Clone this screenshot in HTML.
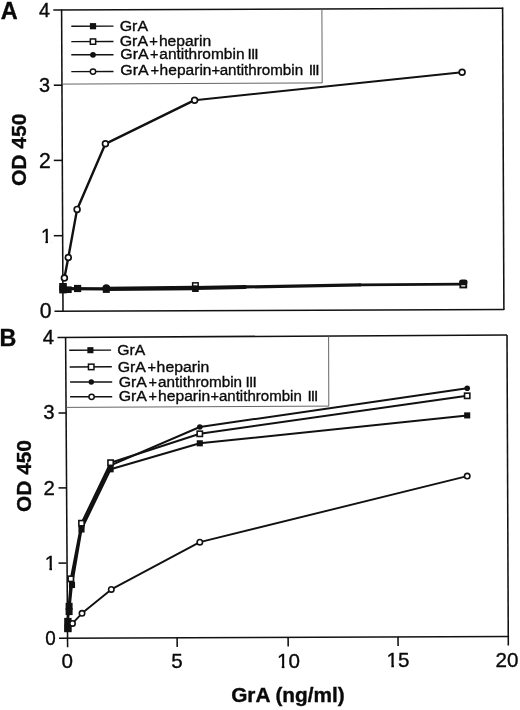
<!DOCTYPE html>
<html lang="en"><head><meta charset="utf-8"><title>GrA OD 450</title>
<style>
html,body{margin:0;padding:0;background:#fff;}
body{width:520px;height:710px;overflow:hidden;}
svg{display:block;}
svg text{font-family:"Liberation Sans",sans-serif;fill:#0a0a0a;stroke:#0a0a0a;stroke-width:0.35px;}
</style></head><body>
<svg width="520" height="710" viewBox="0 0 520 710">
<rect width="520" height="710" fill="#fff"/>
<!-- panel A -->
<line x1="53.3" y1="10" x2="503.2" y2="8.2" stroke="#111" stroke-width="1.55" />
<line x1="61.6" y1="9.5" x2="63" y2="311.5" stroke="#111" stroke-width="1.55" />
<line x1="54.5" y1="311.3" x2="504" y2="309.4" stroke="#111" stroke-width="1.55" />
<line x1="502.6" y1="7.6" x2="503.9" y2="310" stroke="#111" stroke-width="1.55" />
<line x1="53.8" y1="85.2" x2="62.3" y2="85.2" stroke="#111" stroke-width="1.55" />
<line x1="53.8" y1="160.4" x2="62.3" y2="160.4" stroke="#111" stroke-width="1.55" />
<line x1="53.8" y1="235.7" x2="62.3" y2="235.7" stroke="#111" stroke-width="1.55" />
<line x1="321.9" y1="9" x2="322.2" y2="83" stroke="#555" stroke-width="0.9" />
<line x1="62" y1="84.1" x2="322.2" y2="82.9" stroke="#555" stroke-width="0.9" />
<line x1="71.3" y1="26.2" x2="113.5" y2="26.099999999999998" stroke="#111" stroke-width="1.45" />
<line x1="71.3" y1="41.6" x2="113.5" y2="41.5" stroke="#111" stroke-width="1.45" />
<line x1="71.3" y1="54.8" x2="113.5" y2="54.699999999999996" stroke="#111" stroke-width="1.45" />
<line x1="71.3" y1="71.6" x2="113.5" y2="71.5" stroke="#111" stroke-width="1.45" />
<rect x="89.90" y="23.10" width="6.2" height="6.2" fill="#111"/>
<rect x="90.35" y="38.95" width="5.30" height="5.30" fill="#fff" stroke="#111" stroke-width="1.5"/>
<circle cx="93.0" cy="54.8" r="2.90" fill="#111"/>
<circle cx="93.0" cy="71.6" r="2.70" fill="#fff" stroke="#111" stroke-width="1.5"/>
<text y="31.2" font-size="15.5"><tspan x="119.70" textLength="28.33" lengthAdjust="spacingAndGlyphs">GrA</tspan></text>
<text y="46.1" font-size="15.5"><tspan x="119.70" textLength="28.33" lengthAdjust="spacingAndGlyphs">GrA</tspan><tspan x="149.37" textLength="8.65" lengthAdjust="spacingAndGlyphs">+</tspan><tspan x="158.92" textLength="52.20" lengthAdjust="spacingAndGlyphs">heparin</tspan></text>
<text y="59.2" font-size="15.5"><tspan x="120.30" textLength="28.33" lengthAdjust="spacingAndGlyphs">GrA</tspan><tspan x="149.98" textLength="8.53" lengthAdjust="spacingAndGlyphs">+</tspan><tspan x="159.34" textLength="85.17" lengthAdjust="spacingAndGlyphs">antithrombin</tspan><tspan x="244.19" letter-spacing="-0.93"> III</tspan></text>
<text y="75.2" font-size="15.5"><tspan x="120.30" textLength="28.33" lengthAdjust="spacingAndGlyphs">GrA</tspan><tspan x="150.47" textLength="8.65" lengthAdjust="spacingAndGlyphs">+</tspan><tspan x="159.63" textLength="51.89" lengthAdjust="spacingAndGlyphs">heparin</tspan><tspan x="211.47" textLength="8.65" lengthAdjust="spacingAndGlyphs">+</tspan><tspan x="219.65" textLength="83.43" lengthAdjust="spacingAndGlyphs">antithrombin</tspan><tspan x="305.64" letter-spacing="-1.08"> III</tspan></text>
<text x="49.9" y="16.7" font-size="19.7" text-anchor="end" font-weight="normal" >4</text>
<text x="50.1" y="92.3" font-size="19.9" text-anchor="end" font-weight="normal" >3</text>
<text x="50.9" y="167.8" font-size="21.2" text-anchor="end" font-weight="normal" >2</text>
<text x="51.6" y="318.3" font-size="21.2" text-anchor="end" font-weight="normal" >0</text>
<clipPath id="c1_1" clipPathUnits="userSpaceOnUse"><rect x="38.90" y="222.80" width="12.75" height="17.33"/><rect x="45.45" y="222.80" width="2.54" height="20.70"/><rect x="51.65" y="222.80" width="59.10" height="23.70"/></clipPath><text x="40.9" y="242.5" font-size="19.7" text-anchor="start" font-weight="normal" clip-path="url(#c1_1)">1</text>
<text x="0.8" y="18.7" font-size="23.5" text-anchor="start" font-weight="bold" >A</text>
<g transform="translate(25.9,149.8) rotate(-90)"><text x="0" y="0" font-size="19.8" text-anchor="middle" font-weight="bold" textLength="72.5" lengthAdjust="spacingAndGlyphs" >OD 450</text></g>
<polyline points="63,288.7 106.3,288.85" fill="none" stroke="#111" stroke-width="3.3" stroke-linejoin="round" stroke-linecap="round"/>
<polyline points="106.3,288.9 195.4,288.0" fill="none" stroke="#111" stroke-width="4.3" stroke-linejoin="round" stroke-linecap="round"/>
<polyline points="195.4,287.9 245,287.0" fill="none" stroke="#111" stroke-width="4.0" stroke-linejoin="round" stroke-linecap="round"/>
<polyline points="245,286.95 360,284.95" fill="none" stroke="#111" stroke-width="3.2" stroke-linejoin="round" stroke-linecap="round"/>
<polyline points="360,284.95 463,284.15" fill="none" stroke="#111" stroke-width="2.7" stroke-linejoin="round" stroke-linecap="round"/>
<rect x="59.20" y="283.00" width="7.6" height="7.6" fill="#111"/>
<rect x="59.20" y="285.80" width="7.6" height="7.6" fill="#111"/>
<rect x="65.10" y="286.40" width="6.6" height="6.6" fill="#111"/>
<rect x="74.00" y="284.90" width="7.2" height="7.2" fill="#111"/>
<rect x="102.80" y="285.90" width="7.0" height="7.0" fill="#111"/>
<circle cx="106.3" cy="287.9" r="3.70" fill="#111"/>
<rect x="192.10" y="285.40" width="6.6" height="6.6" fill="#111"/>
<rect x="192.65" y="282.85" width="5.50" height="5.50" fill="none" stroke="#111" stroke-width="1.5"/>
<rect x="460.35" y="281.55" width="5.90" height="5.90" fill="#fff" stroke="#111" stroke-width="1.9"/>
<rect x="459.4" y="279.4" width="8.0" height="5.9" rx="2.2" fill="#111"/>
<polyline points="64.4,278 68.3,257.5 77.1,209.4 105.4,143.8 194.6,100.2" fill="none" stroke="#111" stroke-width="2.4" stroke-linejoin="round" stroke-linecap="round"/>
<polyline points="194.6,100.2 462.1,72.3" fill="none" stroke="#111" stroke-width="1.9" stroke-linejoin="round" stroke-linecap="round"/>
<circle cx="64.4" cy="278" r="2.90" fill="#fff" stroke="#111" stroke-width="1.7"/>
<circle cx="68.3" cy="257.5" r="2.90" fill="#fff" stroke="#111" stroke-width="1.7"/>
<circle cx="77.1" cy="209.4" r="2.90" fill="#fff" stroke="#111" stroke-width="1.7"/>
<circle cx="105.4" cy="143.8" r="2.90" fill="#fff" stroke="#111" stroke-width="1.7"/>
<circle cx="194.6" cy="100.2" r="2.90" fill="#fff" stroke="#111" stroke-width="1.7"/>
<circle cx="462.1" cy="72.3" r="2.90" fill="#fff" stroke="#111" stroke-width="1.7"/>
<!-- panel B -->
<line x1="57.5" y1="337.5" x2="507" y2="335" stroke="#111" stroke-width="1.55" />
<line x1="65.6" y1="337" x2="67.6" y2="647.2" stroke="#111" stroke-width="1.55" />
<line x1="59" y1="638.3" x2="508.8" y2="636.4" stroke="#111" stroke-width="1.55" />
<line x1="507" y1="335" x2="508.3" y2="645.6" stroke="#111" stroke-width="1.55" />
<line x1="58.5" y1="413" x2="66.4" y2="413" stroke="#111" stroke-width="1.55" />
<line x1="58.5" y1="487.9" x2="66.4" y2="487.9" stroke="#111" stroke-width="1.55" />
<line x1="58.5" y1="563.1" x2="66.4" y2="563.1" stroke="#111" stroke-width="1.55" />
<line x1="177.1" y1="637.8" x2="177.2" y2="647.0" stroke="#111" stroke-width="1.55" />
<line x1="288.1" y1="637.3" x2="288.20000000000005" y2="646.5" stroke="#111" stroke-width="1.55" />
<line x1="398.0" y1="636.8" x2="398.1" y2="646.0" stroke="#111" stroke-width="1.55" />
<line x1="328.6" y1="336" x2="328.8" y2="406.2" stroke="#555" stroke-width="0.9" />
<line x1="66" y1="407.4" x2="328.8" y2="406.1" stroke="#555" stroke-width="0.9" />
<line x1="69.2" y1="350.2" x2="111.1" y2="350.09999999999997" stroke="#111" stroke-width="1.45" />
<line x1="69.7" y1="366.9" x2="111.8" y2="366.79999999999995" stroke="#111" stroke-width="1.45" />
<line x1="70.1" y1="382.0" x2="112.2" y2="381.9" stroke="#111" stroke-width="1.45" />
<line x1="70.1" y1="396.8" x2="112.2" y2="396.7" stroke="#111" stroke-width="1.45" />
<rect x="87.35" y="347.15" width="6.1" height="6.1" fill="#111"/>
<rect x="88.45" y="364.15" width="5.50" height="5.50" fill="#fff" stroke="#111" stroke-width="1.5"/>
<circle cx="91.3" cy="382.0" r="2.70" fill="#111"/>
<circle cx="91.6" cy="396.8" r="2.65" fill="#fff" stroke="#111" stroke-width="1.5"/>
<text y="355.1" font-size="15.5"><tspan x="117.31" textLength="28.02" lengthAdjust="spacingAndGlyphs">GrA</tspan></text>
<text y="371.7" font-size="15.5"><tspan x="117.70" textLength="28.23" lengthAdjust="spacingAndGlyphs">GrA</tspan><tspan x="147.48" textLength="8.53" lengthAdjust="spacingAndGlyphs">+</tspan><tspan x="156.61" textLength="52.62" lengthAdjust="spacingAndGlyphs">heparin</tspan></text>
<text y="386.6" font-size="15.5"><tspan x="118.70" textLength="28.23" lengthAdjust="spacingAndGlyphs">GrA</tspan><tspan x="148.48" textLength="8.53" lengthAdjust="spacingAndGlyphs">+</tspan><tspan x="158.05" textLength="84.05" lengthAdjust="spacingAndGlyphs">antithrombin</tspan><tspan x="242.14" letter-spacing="-0.88"> III</tspan></text>
<text y="401.3" font-size="15.5"><tspan x="118.70" textLength="28.23" lengthAdjust="spacingAndGlyphs">GrA</tspan><tspan x="148.48" textLength="8.53" lengthAdjust="spacingAndGlyphs">+</tspan><tspan x="158.12" textLength="52.10" lengthAdjust="spacingAndGlyphs">heparin</tspan><tspan x="210.48" textLength="8.53" lengthAdjust="spacingAndGlyphs">+</tspan><tspan x="218.96" textLength="82.82" lengthAdjust="spacingAndGlyphs">antithrombin</tspan><tspan x="304.29" letter-spacing="-1.03"> III</tspan></text>
<text x="54.0" y="344.2" font-size="20.4" text-anchor="end" font-weight="normal" >4</text>
<text x="54.7" y="419.1" font-size="20.4" text-anchor="end" font-weight="normal" >3</text>
<text x="54.9" y="494.8" font-size="20.4" text-anchor="end" font-weight="normal" >2</text>
<text x="55.7" y="644.8" font-size="20.4" text-anchor="end" font-weight="normal" textLength="10.5" lengthAdjust="spacingAndGlyphs" >0</text>
<clipPath id="c1_2" clipPathUnits="userSpaceOnUse"><rect x="42.70" y="549.30" width="13.14" height="17.98"/><rect x="49.43" y="549.30" width="2.60" height="21.40"/><rect x="55.84" y="549.30" width="61.20" height="24.40"/></clipPath><text x="44.7" y="569.7" font-size="20.4" text-anchor="start" font-weight="normal" clip-path="url(#c1_2)">1</text>
<text x="-0.4" y="346.1" font-size="23.3" text-anchor="start" font-weight="bold" >B</text>
<g transform="translate(30.6,476) rotate(-90)"><text x="0" y="0" font-size="19.8" text-anchor="middle" font-weight="bold" textLength="72" lengthAdjust="spacingAndGlyphs" >OD 450</text></g>
<text x="67.2" y="667.8" font-size="20.6" text-anchor="middle" font-weight="normal" >0</text>
<text x="177.0" y="667.7" font-size="20.6" text-anchor="middle" font-weight="normal" >5</text>
<text x="507.0" y="666.8" font-size="20.6" text-anchor="middle" font-weight="normal" >20</text>
<clipPath id="c1_3" clipPathUnits="userSpaceOnUse"><rect x="275.00" y="646.90" width="13.25" height="18.16"/><rect x="281.78" y="646.90" width="2.62" height="21.60"/><rect x="288.25" y="646.90" width="61.80" height="24.60"/></clipPath><text x="277.0" y="667.5" font-size="20.6" text-anchor="start" font-weight="normal" clip-path="url(#c1_3)">10</text>
<clipPath id="c1_4" clipPathUnits="userSpaceOnUse"><rect x="384.60" y="646.50" width="13.25" height="18.16"/><rect x="391.38" y="646.50" width="2.62" height="21.60"/><rect x="397.85" y="646.50" width="61.80" height="24.60"/></clipPath><text x="386.6" y="667.1" font-size="20.6" text-anchor="start" font-weight="normal" clip-path="url(#c1_4)">15</text>
<text x="287.9" y="702.2" font-size="19.6" text-anchor="middle" font-weight="bold" textLength="113.5" lengthAdjust="spacingAndGlyphs" >GrA (ng/ml)</text>
<polyline points="67.0,630 67.6,622 69.4,610 72.0,585 81.5,529.5 110.6,469.3 199.8,443.3 467.2,415.4" fill="none" stroke="#111" stroke-width="2.0" stroke-linejoin="round" stroke-linecap="round"/>
<polyline points="67.0,629 67.6,621 68.6,608 70.8,578.8 81.5,523.2 110.6,462.7 199.8,433.8 467.2,395.8" fill="none" stroke="#111" stroke-width="2.0" stroke-linejoin="round" stroke-linecap="round"/>
<polyline points="67.0,628 67.6,620 69,607 71.5,581 81.5,527 110.6,465.4 199.8,427.0 467.2,388.2" fill="none" stroke="#111" stroke-width="2.0" stroke-linejoin="round" stroke-linecap="round"/>
<polyline points="67.6,630 72.5,623.4 82,613.3 111.3,589.4 199.8,542.2 467.2,476.1" fill="none" stroke="#111" stroke-width="1.9" stroke-linejoin="round" stroke-linecap="round"/>
<rect x="68.95" y="581.95" width="6.1" height="6.1" fill="#111"/>
<rect x="78.45" y="526.45" width="6.1" height="6.1" fill="#111"/>
<rect x="107.55" y="466.25" width="6.1" height="6.1" fill="#111"/>
<rect x="196.75" y="440.25" width="6.1" height="6.1" fill="#111"/>
<rect x="464.15" y="412.35" width="6.1" height="6.1" fill="#111"/>
<rect x="64.20" y="617.90" width="7.4" height="7.4" fill="#111"/>
<rect x="64.10" y="624.60" width="7.6" height="7.6" fill="#111"/>
<rect x="65.60" y="602.80" width="7.0" height="7.0" fill="#111"/>
<rect x="65.60" y="608.10" width="7.0" height="7.0" fill="#111"/>
<circle cx="71.5" cy="581" r="2.80" fill="#111"/>
<circle cx="81.5" cy="527" r="2.80" fill="#111"/>
<circle cx="110.6" cy="465.4" r="2.80" fill="#111"/>
<circle cx="199.8" cy="427.0" r="2.80" fill="#111"/>
<circle cx="467.2" cy="388.2" r="2.80" fill="#111"/>
<rect x="68.15" y="576.15" width="5.30" height="5.30" fill="#fff" stroke="#111" stroke-width="1.6"/>
<rect x="78.85" y="520.55" width="5.30" height="5.30" fill="#fff" stroke="#111" stroke-width="1.6"/>
<rect x="107.95" y="460.05" width="5.30" height="5.30" fill="#fff" stroke="#111" stroke-width="1.6"/>
<rect x="197.15" y="431.15" width="5.30" height="5.30" fill="#fff" stroke="#111" stroke-width="1.6"/>
<rect x="464.55" y="393.15" width="5.30" height="5.30" fill="#fff" stroke="#111" stroke-width="1.6"/>
<circle cx="72.5" cy="623.4" r="2.70" fill="#fff" stroke="#111" stroke-width="1.6"/>
<circle cx="82" cy="613.3" r="2.70" fill="#fff" stroke="#111" stroke-width="1.6"/>
<circle cx="111.3" cy="589.4" r="2.70" fill="#fff" stroke="#111" stroke-width="1.6"/>
<circle cx="199.8" cy="542.2" r="2.70" fill="#fff" stroke="#111" stroke-width="1.6"/>
<circle cx="467.2" cy="476.1" r="2.70" fill="#fff" stroke="#111" stroke-width="1.6"/>
</svg>
</body></html>
